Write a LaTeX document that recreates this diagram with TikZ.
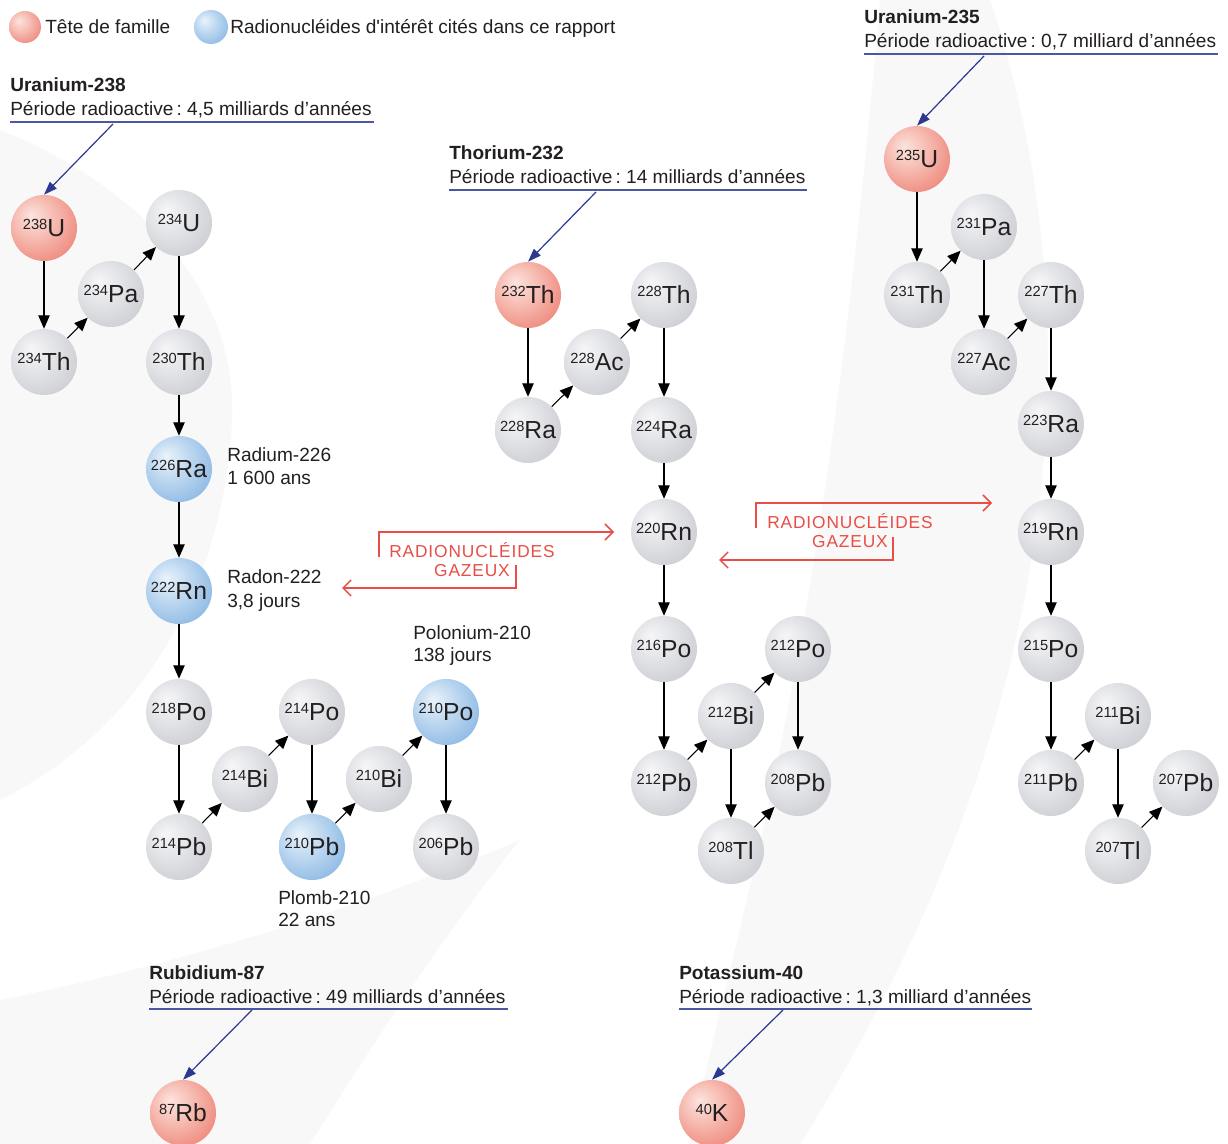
\documentclass[tikz,border=0pt]{standalone}
\usepackage{fontspec}
\setmainfont{Liberation Sans}
\newfontfamily\gasfont[LetterSpace=5]{Liberation Sans}
\usetikzlibrary{arrows.meta}
\frenchspacing

\definecolor{gA}{RGB}{246,246,248}
\definecolor{gB}{RGB}{226,227,231}
\definecolor{gC}{RGB}{200,201,206}
\definecolor{gD}{RGB}{158,159,165}
\definecolor{rA}{RGB}{251,228,222}
\definecolor{rB}{RGB}{246,186,176}
\definecolor{rC}{RGB}{237,124,112}
\definecolor{rD}{RGB}{222,78,66}
\definecolor{bA}{RGB}{234,243,251}
\definecolor{bB}{RGB}{188,215,240}
\definecolor{bC}{RGB}{130,178,226}
\definecolor{bD}{RGB}{78,142,210}
\definecolor{hdrblue}{RGB}{43,57,144}
\definecolor{gasred}{RGB}{232,78,70}
\definecolor{txt}{RGB}{35,31,32}
\definecolor{bgg}{RGB}{248,248,249}

\pgfdeclareradialshading{graysph}{\pgfpoint{-10bp}{10bp}}{color(0bp)=(gA); color(16bp)=(gB); color(38bp)=(gC); color(62bp)=(gD)}
\pgfdeclareradialshading{redsph}{\pgfpoint{-10bp}{10bp}}{color(0bp)=(rA); color(16bp)=(rB); color(38bp)=(rC); color(62bp)=(rD)}
\pgfdeclareradialshading{bluesph}{\pgfpoint{-10bp}{10bp}}{color(0bp)=(bA); color(16bp)=(bB); color(38bp)=(bC); color(62bp)=(bD)}

\newcommand\iso[2]{\raisebox{5.5pt}{\fontsize{11}{11}\selectfont#1}#2}

\tikzset{
  sph/.style={circle, minimum size=49.5pt, inner sep=0pt, text=txt,
    font=\fontsize{18.5}{18.5}\selectfont},
  gsph/.style={sph, shading=graysph},
  rsph/.style={sph, shading=redsph},
  bsph/.style={sph, shading=bluesph},
  decay/.style={draw=black, line width=0.8pt, -{Triangle[length=10pt,width=8.5pt]}},
  hdrarrow/.style={draw=hdrblue, line width=0.9pt, -{Triangle[length=10pt,width=7pt]}},
  hdrline/.style={draw=hdrblue!85!white, line width=0.9pt},
  lbl/.style={anchor=base west, inner sep=0pt, text=txt, font=\fontsize{14.3}{16}\selectfont},
  ttl/.style={lbl, font=\fontsize{14.3}{16}\selectfont\bfseries},
  gastxt/.style={anchor=base, inner sep=0pt, text=gasred, font=\fontsize{13}{15}\selectfont\gasfont},
  gasarrow/.style={draw=gasred, line width=1.1pt, -{Straight Barb[length=6pt,width=12pt]}},
}

\begin{document}
\begin{tikzpicture}[x=0.75pt,y=-0.75pt]
\useasboundingbox (0,0) rectangle (1228,1144);
\fill[white] (0,0) rectangle (1228,1144);

% faint background bands
\fill[bgg] (0,130) .. controls (150,190) and (238,300) .. (232,420)
  .. controls (226,560) and (160,720) .. (0,800) -- cycle;
\fill[bgg] (0,1144) -- (310,1144) .. controls (400,1000) and (470,900) .. (520,840)
  .. controls (380,900) and (200,960) .. (0,1000) -- cycle;
\fill[bgg] (690,1144) .. controls (740,900) and (820,700) .. (880,0)
  -- (990,0) .. controls (1090,300) and (1080,700) .. (800,1144) -- cycle;

% legend
\node[rsph, minimum size=24pt] (legr) at (25,27) {};
\node[lbl] (legrt) at (45,34) {Tête de famille};
\node[bsph, minimum size=25.5pt] (legb) at (211,27) {};
\node[lbl] (legbt) at (230,34) {Radionucléides d\textquotesingle intérêt cités dans ce rapport};

% headers
\node[ttl] (h238) at (10,92) {Uranium-238};
\node[lbl] (h238s) at (10,116) {Période radioactive\,: 4,5 milliards d’années};
\draw[hdrline] (10,122) -- (374,122);
\coordinate (a238) at (113,124);

\node[ttl] (h232) at (449,160) {Thorium-232};
\node[lbl] (h232s) at (449,184) {Période radioactive\,: 14 milliards d’années};
\draw[hdrline] (449,190) -- (807,190);
\coordinate (a232) at (596,192);

\node[ttl] (h235) at (864,24) {Uranium-235};
\node[lbl] (h235s) at (864,48) {Période radioactive\,: 0,7 milliard d’années};
\draw[hdrline] (864,54) -- (1218,54);
\coordinate (a235) at (984,56);

\node[ttl] (h87) at (149,979) {Rubidium-87};
\node[lbl] (h87s) at (149,1003) {Période radioactive\,: 49 milliards d’années};
\draw[hdrline] (149,1009) -- (508,1009);
\coordinate (a87) at (252,1010);

\node[ttl] (h40) at (679,979) {Potassium-40};
\node[lbl] (h40s) at (679,1003) {Période radioactive\,: 1,3 milliard d’années};
\draw[hdrline] (679,1009) -- (1032,1009);
\coordinate (a40) at (783,1010);

% U-238 chain
\node[rsph] (u238) at (44,228) {\iso{238}{U}};
\node[gsph] (th234) at (44,362) {\iso{234}{Th}};
\node[gsph] (pa234) at (111,294) {\iso{234}{Pa}};
\node[gsph] (u234) at (179,223) {\iso{234}{U}};
\node[gsph] (th230) at (179,362) {\iso{230}{Th}};
\node[bsph] (ra226) at (179,469) {\iso{226}{Ra}};
\node[bsph] (rn222) at (179,591) {\iso{222}{Rn}};
\node[gsph] (po218) at (179,712) {\iso{218}{Po}};
\node[gsph] (pb214) at (179,847) {\iso{214}{Pb}};
\node[gsph] (bi214) at (245,779) {\iso{214}{Bi}};
\node[gsph] (po214) at (312,712) {\iso{214}{Po}};
\node[bsph] (pb210) at (312,847) {\iso{210}{Pb}};
\node[gsph] (bi210) at (379,779) {\iso{210}{Bi}};
\node[bsph] (po210) at (446,712) {\iso{210}{Po}};
\node[gsph] (pb206) at (446,847) {\iso{206}{Pb}};

% Th-232 chain
\node[rsph] (th232) at (528,295) {\iso{232}{Th}};
\node[gsph] (ra228) at (528,430) {\iso{228}{Ra}};
\node[gsph] (ac228) at (597,362) {\iso{228}{Ac}};
\node[gsph] (th228) at (664,295) {\iso{228}{Th}};
\node[gsph] (ra224) at (664,430) {\iso{224}{Ra}};
\node[gsph] (rn220) at (664,532) {\iso{220}{Rn}};
\node[gsph] (po216) at (664,649) {\iso{216}{Po}};
\node[gsph] (pb212) at (664,783) {\iso{212}{Pb}};
\node[gsph] (bi212) at (731,716) {\iso{212}{Bi}};
\node[gsph] (po212) at (798,649) {\iso{212}{Po}};
\node[gsph] (pb208) at (798,783) {\iso{208}{Pb}};
\node[gsph] (tl208) at (731,851) {\iso{208}{Tl}};

% U-235 chain
\node[rsph] (u235) at (917,159) {\iso{235}{U}};
\node[gsph] (th231) at (917,295) {\iso{231}{Th}};
\node[gsph] (pa231) at (984,227) {\iso{231}{Pa}};
\node[gsph] (ac227) at (984,362) {\iso{227}{Ac}};
\node[gsph] (th227) at (1051,295) {\iso{227}{Th}};
\node[gsph] (ra223) at (1051,424) {\iso{223}{Ra}};
\node[gsph] (rn219) at (1051,532) {\iso{219}{Rn}};
\node[gsph] (po215) at (1051,649) {\iso{215}{Po}};
\node[gsph] (pb211) at (1051,783) {\iso{211}{Pb}};
\node[gsph] (bi211) at (1118,716) {\iso{211}{Bi}};
\node[gsph] (tl207) at (1118,851) {\iso{207}{Tl}};
\node[gsph] (pb207) at (1186,783) {\iso{207}{Pb}};

% Rb, K
\node[rsph] (rb87) at (183,1113) {\iso{87}{Rb}};
\node[rsph] (k40) at (712,1113) {\iso{40}{K}};

% header arrows
\draw[hdrarrow] (a238) -- (u238.north);
\draw[hdrarrow] (a232) -- (th232.north);
\draw[hdrarrow] (a235) -- (u235.north);
\draw[hdrarrow] (a87) -- (rb87.north);
\draw[hdrarrow] (a40) -- (k40.north);

% decay arrows
\foreach \a/\b in {u238/th234, th234/pa234, pa234/u234, u234/th230, th230/ra226,
  ra226/rn222, rn222/po218, po218/pb214, pb214/bi214, bi214/po214, po214/pb210,
  pb210/bi210, bi210/po210, po210/pb206,
  th232/ra228, ra228/ac228, ac228/th228, th228/ra224, ra224/rn220, rn220/po216,
  po216/pb212, pb212/bi212, bi212/po212, po212/pb208, bi212/tl208, tl208/pb208,
  u235/th231, th231/pa231, pa231/ac227, ac227/th227, th227/ra223, ra223/rn219,
  rn219/po215, po215/pb211, pb211/bi211, bi211/tl207, tl207/pb207}
  \draw[decay] (\a) -- (\b);

% labels
\node[lbl] (lra) at (227,462) {Radium-226};
\node[lbl] (lra2) at (227,485) {1 600 ans};
\node[lbl] (lrn) at (227,584) {Radon-222};
\node[lbl] (lrn2) at (227,607) {3,8 jours};
\node[lbl] (lpo) at (413,639) {Polonium-210};
\node[lbl] (lpo2) at (413,661) {138 jours};
\node[lbl] (lpb) at (278,904) {Plomb-210};
\node[lbl] (lpb2) at (278,926) {22 ans};

% gas boxes (left)
\coordinate (g1a) at (379,557);
\coordinate (g1b) at (379,532);
\coordinate (g1c) at (614,532);
\coordinate (g1d) at (516,565);
\coordinate (g1e) at (516,588);
\coordinate (g1f) at (342,588);
\draw[gasarrow] (g1a) -- (g1b) -- (g1c);
\draw[gasarrow] (g1d) -- (g1e) -- (g1f);
\node[gastxt] (g1t) at (472,557) {RADIONUCLÉIDES};
\node[gastxt] (g1u) at (472,576) {GAZEUX};

% gas boxes (right)
\coordinate (g2a) at (756,528);
\coordinate (g2b) at (756,503);
\coordinate (g2c) at (992,503);
\coordinate (g2d) at (893,537);
\coordinate (g2e) at (893,560);
\coordinate (g2f) at (719,560);
\draw[gasarrow] (g2a) -- (g2b) -- (g2c);
\draw[gasarrow] (g2d) -- (g2e) -- (g2f);
\node[gastxt] (g2t) at (850,528) {RADIONUCLÉIDES};
\node[gastxt] (g2u) at (850,547) {GAZEUX};
\end{tikzpicture}
\end{document}
